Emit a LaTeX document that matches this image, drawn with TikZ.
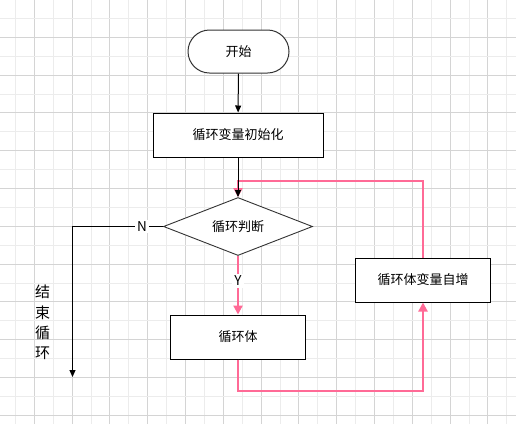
\documentclass[tikz,border=0pt]{standalone}
\usepackage{fontspec}
\newfontfamily\cjk{Noto Sans CJK SC}
\usetikzlibrary{shapes.geometric,arrows.meta}
\definecolor{pk}{RGB}{255,106,150}
\definecolor{gminor}{RGB}{236,236,236}
\definecolor{gmajor}{RGB}{212,212,212}
\begin{document}
\begin{tikzpicture}[x=1pt,y=-1pt,
  every node/.style={font=\cjk\fontsize{13}{15}\selectfont, text=black},
  boxst/.style={draw=black, line width=1pt, fill=white, rectangle, minimum width=#1, minimum height=44, inner sep=0},
  termst/.style={draw=black!80, line width=1pt, fill=white, rectangle, rounded corners=21.5, minimum width=101, minimum height=43, inner sep=0},
  decst/.style={draw=black!80, line width=0.9pt, fill=white, diamond, aspect=2.57, minimum width=149, minimum height=58, inner sep=0},
  blk/.style={draw=black, line width=1pt},
  blkarr/.style={blk, -{Triangle[length=7,width=6]}},
  pkl/.style={draw=pk, line width=2.2pt},
  pkarr/.style={pkl, -{Triangle[length=9,width=9]}},
  lab/.style={fill=white, inner sep=2pt, font=\cjk\fontsize{13.5}{15}\selectfont}
]
\useasboundingbox (0,0) rectangle (516,424);
\fill[white] (0,0) rectangle (516,424);
% grid
\foreach \i in {0,...,26} {
  \pgfmathsetmacro\xx{15.4+18.9*\i}
  \ifodd\i \def\gc{gmajor}\else\def\gc{gminor}\fi
  \draw[\gc, line width=1pt] (\xx,0) -- (\xx,424);
}
\foreach \i in {0,...,21} {
  \pgfmathsetmacro\yy{18.4+18.9*\i}
  \ifodd\i \def\gc{gmajor}\else\def\gc{gminor}\fi
  \draw[\gc, line width=1pt] (0,\yy) -- (516,\yy);
}
% nodes
\node[termst] (start) at (238.5,51.5) {开始};
\node[boxst=170] (init) at (238,135) {循环变量初始化};
\node[decst] (dec) at (238,226.5) {循环判断};
\node[boxst=135] (body) at (238,337) {循环体};
\node[boxst=135] (inc) at (423,280) {循环体变量自增};
\node[font=\cjk\fontsize{15}{20.4}\selectfont, align=center, inner sep=0] (endtxt) at (42.5,322.5) {结\\束\\循\\环};
\coordinate (j) at (238,181);
\coordinate (nend) at (72.5,377);
\coordinate (lb) at (238,391);
% connectors
\draw[blkarr] (start) -- (init);
\draw[pkarr] (inc.north) |- (j) -- (dec.north);
\draw[blkarr] (init.south) -- (dec.north);
\draw[blkarr] (dec.west) -| (nend);
\node[lab] (nlab) at (142,226.5) {N};
\draw[pkarr] (dec.south) -- (body.north);
\node[lab] (ylab) at (238,281) {Y};
\draw[pkarr] (body.south) -- (lb) -| (inc.south);
\end{tikzpicture}
\end{document}
